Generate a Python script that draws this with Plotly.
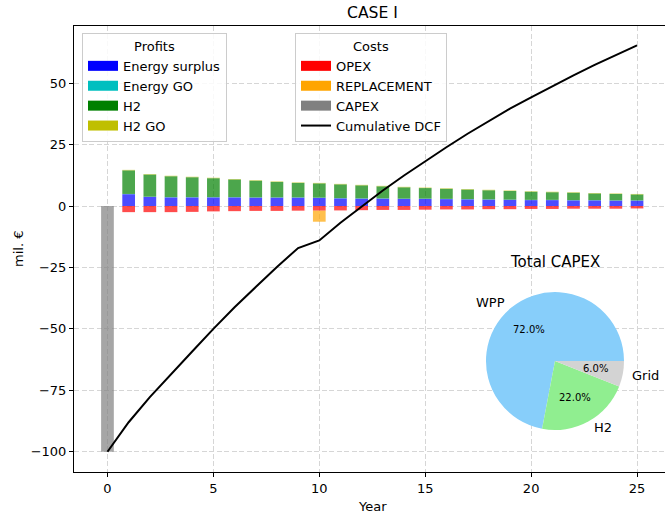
import math
import plotly.graph_objects as go

# ---- data (mil. EUR) ----
years = list(range(0, 26))
profit_years = list(range(1, 26))

energy_surplus = [4.8, 3.7, 3.5, 3.5, 3.5, 3.5, 3.4, 3.4, 3.4, 3.3, 3.1, 3.0, 3.0,
                  2.9, 2.9, 2.8, 2.7, 2.6, 2.5, 2.4, 2.4, 2.3, 2.3, 2.2, 2.2]
energy_go = [0.1, 0.1, 0.1, 0.1, 0.1, 0.1, 0.1, 0.1, 0.1, 0.1, 0.1, 0.1, 0.1,
             0.1, 0.1, 0.1, 0.1, 0.1, 0.1, 0.1, 0.1, 0.1, 0.1, 0.1, 0.1]
h2 = [9.6, 9.0, 8.5, 8.1, 7.7, 7.2, 6.8, 6.3, 5.9, 5.8, 5.6, 5.3, 4.9,
      4.6, 4.3, 4.1, 3.9, 3.7, 3.5, 3.3, 3.1, 3.0, 2.7, 2.6, 2.4]
h2_go = [0.2, 0.2, 0.2, 0.2, 0.2, 0.2, 0.2, 0.2, 0.2, 0.2, 0.2, 0.2, 0.2,
         0.2, 0.2, 0.2, 0.2, 0.2, 0.2, 0.2, 0.2, 0.2, 0.2, 0.2, 0.2]
opex = [-2.5, -2.5, -2.5, -2.4, -2.2, -2.1, -2.0, -2.0, -1.9, -1.9, -1.8, -1.7, -1.6,
        -1.6, -1.5, -1.4, -1.4, -1.3, -1.3, -1.2, -1.2, -1.1, -1.1, -1.1, -1.0]
replacement_years = [10]
replacement = [-4.5]
capex_years = [0]
capex = [-100.0]
cumulative_dcf = [-100.0, -88.0, -77.8, -68.3, -59.2, -50.0, -41.2, -33.0, -24.8, -17.1,
                  -14.0, -6.8, -0.1, 6.3, 12.4, 18.2, 23.9, 29.4, 34.6, 39.6,
                  44.2, 48.8, 53.2, 57.4, 61.5, 65.4]

capex_parts = ["WPP", "H2", "Grid"]
capex_shares = [72.0, 22.0, 6.0]

x_ticks = [0, 5, 10, 15, 20, 25]
y_ticks = [-100, -75, -50, -25, 0, 25, 50]

# ---- layout geometry (pixels) ----
W, H = 665, 516
ML, MR, MT, MB = 74, 0, 26, 44
PW, PH = W - ML - MR, H - MT - MB
FONT = "DejaVu Sans"
BASE = 13


def px_x(px):
    return (px - ML) / PW


def px_y(py):
    return (H - MB - py) / PH


BAR_W = 0.6
ALPHA = 0.7
colors = {
    "Energy surplus": (0, 0, 255),
    "Energy GO": (0, 191, 191),
    "H2": (0, 128, 0),
    "H2 GO": (191, 191, 0),
    "OPEX": (255, 0, 0),
    "REPLACEMENT": (255, 165, 0),
    "CAPEX": (128, 128, 128),
}


def rgba(name, a=1.0):
    r, g, b = colors[name]
    return f"rgba({r},{g},{b},{a})"


fig = go.Figure()

# stacked bars
bar_series = [
    ("Energy surplus", profit_years, energy_surplus),
    ("Energy GO", profit_years, energy_go),
    ("H2", profit_years, h2),
    ("H2 GO", profit_years, h2_go),
    ("OPEX", profit_years, opex),
    ("REPLACEMENT", replacement_years, replacement),
    ("CAPEX", capex_years, capex),
]
for name, xs, ys in bar_series:
    fig.add_trace(go.Bar(
        x=xs, y=ys, width=BAR_W, name=name, showlegend=False,
        marker=dict(color=rgba(name, ALPHA), line=dict(width=0)),
        hoverinfo="x+y+name",
    ))

# legend swatches (full colour patches)
for name in ["Energy surplus", "Energy GO", "H2", "H2 GO"]:
    fig.add_trace(go.Scatter(x=[None], y=[None], mode="lines", name=name,
                             line=dict(color=rgba(name), width=11), legend="legend"))
for name in ["OPEX", "REPLACEMENT", "CAPEX"]:
    fig.add_trace(go.Scatter(x=[None], y=[None], mode="lines", name=name,
                             line=dict(color=rgba(name), width=11), legend="legend2"))

# cumulative discounted cash flow
fig.add_trace(go.Scatter(x=years, y=cumulative_dcf, mode="lines", name="Cumulative DCF",
                         line=dict(color="black", width=2), legend="legend2"))

# CAPEX breakdown pie (inset): first wedge starts at 3 o'clock, going counterclockwise
PIE_CX, PIE_CY, PIE_R = 555, 361, 69
pie_colors = ["#87CEFA", "#90EE90", "#D3D3D3"]
total = sum(capex_shares)
fig.add_trace(go.Pie(
    labels=capex_parts, values=capex_shares, sort=False, direction="counterclockwise",
    rotation=90 - 360.0 * capex_shares[0] / total, textinfo="none",
    marker=dict(colors=pie_colors, line=dict(width=0)),
    showlegend=False,
    domain=dict(x=[px_x(PIE_CX - PIE_R), px_x(PIE_CX + PIE_R)],
                y=[px_y(PIE_CY + PIE_R), px_y(PIE_CY - PIE_R)]),
))

annotations = []
start = 0.0
for part, share in zip(capex_parts, capex_shares):
    span = 360.0 * share / total
    mid = math.radians(start + span / 2)
    start += span
    lx = PIE_CX + 1.1 * PIE_R * math.cos(mid)
    ly = PIE_CY - 1.1 * PIE_R * math.sin(mid)
    annotations.append(dict(
        x=px_x(lx), y=px_y(ly), xref="paper", yref="paper", text=part, showarrow=False,
        xanchor="left" if math.cos(mid) > 0 else "right", yanchor="middle",
        font=dict(family=FONT, size=BASE, color="black")))
    tx = PIE_CX + 0.6 * PIE_R * math.cos(mid)
    ty = PIE_CY - 0.6 * PIE_R * math.sin(mid)
    annotations.append(dict(
        x=px_x(tx), y=px_y(ty), xref="paper", yref="paper", text=f"{share / total * 100:.1f}%",
        showarrow=False, xanchor="center", yanchor="middle",
        font=dict(family=FONT, size=10, color="black")))

annotations += [
    dict(x=px_x(PIE_CX), y=px_y(262), xref="paper", yref="paper", text="Total CAPEX",
         showarrow=False, xanchor="center", yanchor="middle",
         font=dict(family=FONT, size=15, color="black")),
    dict(x=px_x(372), y=px_y(13), xref="paper", yref="paper", text="CASE I",
         showarrow=False, xanchor="center", yanchor="middle",
         font=dict(family=FONT, size=15.6, color="black")),
    dict(x=px_x(372), y=px_y(506), xref="paper", yref="paper", text="Year",
         showarrow=False, xanchor="center", yanchor="middle",
         font=dict(family=FONT, size=BASE, color="black")),
    dict(x=px_x(18), y=0.5, xref="paper", yref="paper", text="mil. €", textangle=-90,
         showarrow=False, xanchor="center", yanchor="middle",
         font=dict(family=FONT, size=BASE, color="black")),
]

legend_style = dict(
    xanchor="left", yanchor="top", bgcolor="rgba(255,255,255,0.85)",
    bordercolor="#cccccc", borderwidth=1, font=dict(family=FONT, size=BASE, color="black"),
    itemwidth=30, tracegroupgap=0, itemclick=False, itemdoubleclick=False,
)
title_font = dict(family=FONT, size=BASE, color="black")

grid = dict(showgrid=True, gridcolor="#d6d6d6", griddash="5px,2.5px", gridwidth=1)

fig.update_layout(
    width=W, height=H, margin=dict(l=ML, r=MR, t=MT, b=MB, autoexpand=False),
    paper_bgcolor="white", plot_bgcolor="white", barmode="relative",
    font=dict(family=FONT, size=BASE, color="black"),
    annotations=annotations,
    legend=dict(title=dict(text="Profits", side="top center", font=title_font),
                x=px_x(82), y=px_y(33), **legend_style),
    legend2=dict(title=dict(text="Costs", side="top center", font=title_font),
                 x=px_x(295), y=px_y(33), **legend_style),
    xaxis=dict(range=[-1.58, 26.32], tickvals=x_ticks, ticks="outside", ticklen=4,
               tickcolor="black", showline=True, linecolor="black", linewidth=1,
               mirror=True, zeroline=False, tickfont=dict(size=BASE), **grid),
    yaxis=dict(range=[-108.25, 73.25], tickvals=y_ticks, ticks="outside", ticklen=4,
               tickcolor="black", showline=True, linecolor="black", linewidth=1,
               zeroline=False, tickfont=dict(size=BASE), **grid),
)

fig.write_html("out.html")
